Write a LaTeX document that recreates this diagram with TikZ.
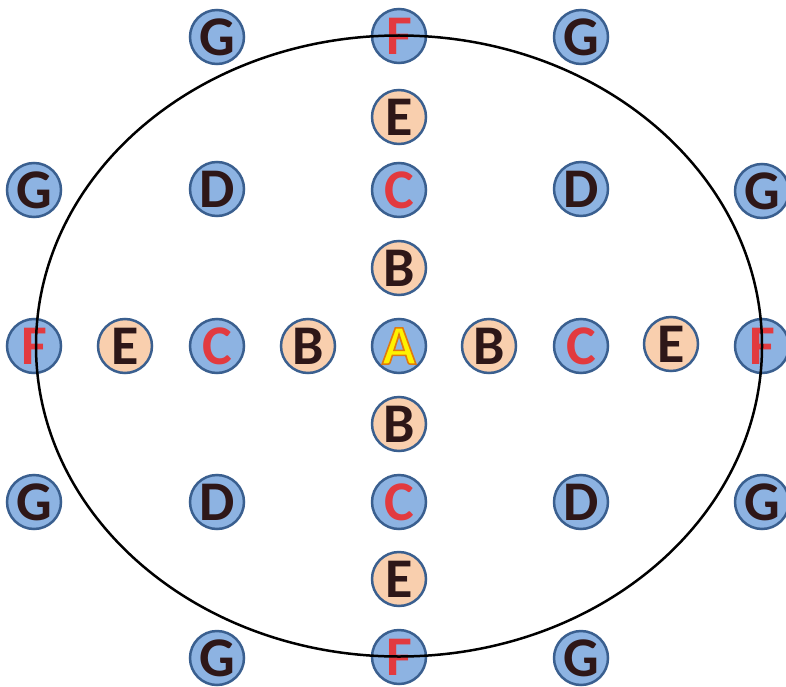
\documentclass[tikz,border=0pt]{standalone}
\usepackage{fontspec}
\setmainfont{Carlito}
\definecolor{discblue}{HTML}{8DB3E2}
\definecolor{discpeach}{HTML}{F9CFAE}
\definecolor{rimblue}{HTML}{3A5F8F}
\definecolor{inkdark}{HTML}{2E1718}
\definecolor{inkred}{HTML}{E23A3F}
\definecolor{inkyellow}{HTML}{FFF200}

% a letter filled in one colour and stroked in orange (text render mode 2)
\newcommand\rimglyph[1]{{\color{inkyellow}%
  \special{pdf:literal direct 2 Tr 1.6 w 0.88 0.48 0.06 RG}#1%
  \special{pdf:literal direct 0 Tr}}}

\tikzset{
  disc/.style={circle, minimum size=54pt, inner sep=0pt, line width=2.5pt,
    draw=rimblue, font=\fontsize{56}{56}\selectfont\bfseries},
  bluedisc/.style={disc, fill=discblue},
  peachdisc/.style={disc, fill=discpeach},
  dark/.style={text=inkdark},
  red/.style={text=inkred},
  ring/.style={draw=black, line width=2.5pt},
}

\begin{document}
\begin{tikzpicture}[x=1pt, y=-1pt]
\useasboundingbox (0,0) rectangle (786,687);

% centre
\node[bluedisc] (a) at (399,346) {\rimglyph{A}};

% first ring: B
\node[peachdisc, dark] (bn) at (399,268) {B};
\node[peachdisc, dark] (bs) at (399,424) {B};
\node[peachdisc, dark] (bw) at (308,346) {B};
\node[peachdisc, dark] (be) at (489,346) {B};

% second ring: C
\node[bluedisc, red] (cn) at (399,190) {C};
\node[bluedisc, red] (cs) at (399,502) {C};
\node[bluedisc, red] (cw) at (217,346) {C};
\node[bluedisc, red] (ce) at (581,346) {C};

% diagonals: D
\node[bluedisc, dark] (dnw) at (217,189) {D};
\node[bluedisc, dark] (dne) at (581,189) {D};
\node[bluedisc, dark] (dsw) at (217,502) {D};
\node[bluedisc, dark] (dse) at (581,502) {D};

% third ring: E
\node[peachdisc, dark] (en) at (399,117) {E};
\node[peachdisc, dark] (es) at (399,579) {E};
\node[peachdisc, dark] (ew) at (125,346) {E};
\node[peachdisc, dark] (ee) at (671,344) {E};

% outer ring: F
\node[bluedisc, red] (fn) at (399,36) {F};
\node[bluedisc, red] (fs) at (399,657) {F};
\node[bluedisc, red] (fw) at (34,346) {F};
\node[bluedisc, red] (fe) at (762,346) {F};

% corners: G
\node[bluedisc, dark] (g1) at (217,37) {G};
\node[bluedisc, dark] (g2) at (581,37) {G};
\node[bluedisc, dark] (g3) at (34,190) {G};
\node[bluedisc, dark] (g4) at (762,191) {G};
\node[bluedisc, dark] (g5) at (34,502) {G};
\node[bluedisc, dark] (g6) at (762,502) {G};
\node[bluedisc, dark] (g7) at (217,658) {G};
\node[bluedisc, dark] (g8) at (581,658) {G};

% boundary ellipse through the four F discs
\draw[ring] (a.center) ellipse [x radius=363, y radius=310.5];
\end{tikzpicture}
\end{document}
